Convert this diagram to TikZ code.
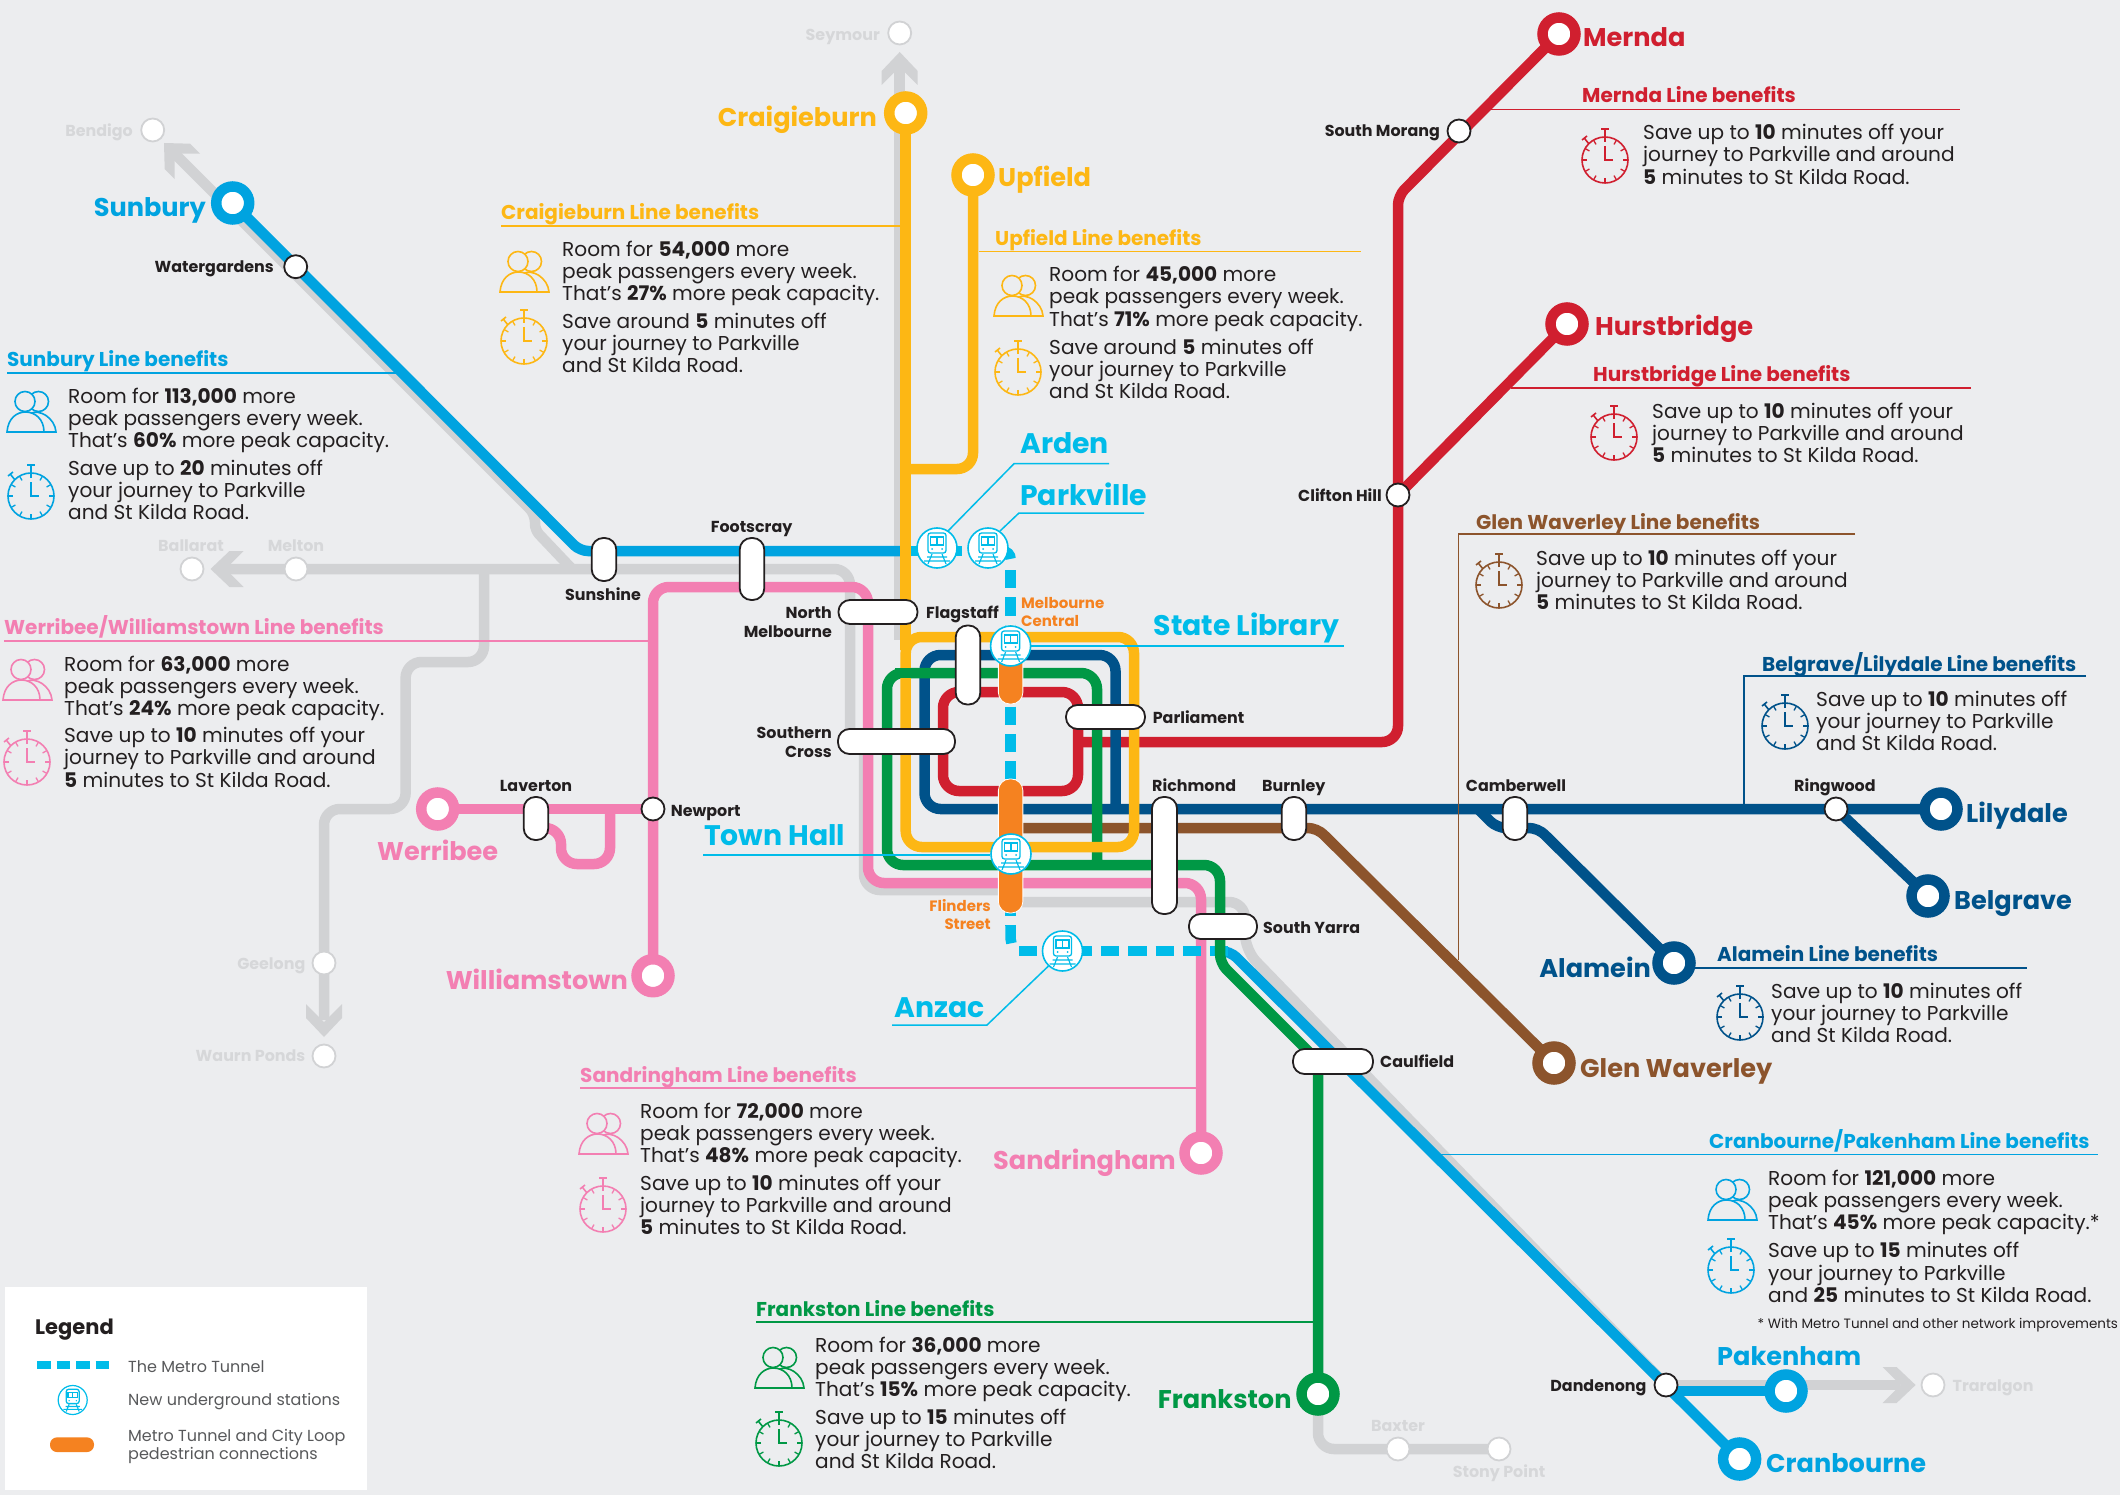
\documentclass[tikz,border=0pt]{standalone}
\usepackage{fontspec}
\setmainfont{Poppins}
\definecolor{bgc}{HTML}{ECEDEF}
\definecolor{cYel}{HTML}{FDB714}
\definecolor{cGrn}{HTML}{009845}
\definecolor{cNav}{HTML}{00528A}
\definecolor{cRed}{HTML}{D01F2F}
\definecolor{cBlu}{HTML}{00A3E0}
\definecolor{cCya}{HTML}{00BCE9}
\definecolor{cPnk}{HTML}{F37FB2}
\definecolor{cBrn}{HTML}{8C542C}
\definecolor{cOrg}{HTML}{F58220}
\definecolor{cGry}{HTML}{D1D2D4}
\definecolor{cGtx}{HTML}{D6D7D9}
\definecolor{ink}{HTML}{231F20}
\definecolor{lgtx}{HTML}{58595B}
\tikzset{
  x=1pt,y=-1pt,
  railway/.style={line width=10.5pt,rounded corners=16pt},
  term/.style={circle,draw=#1,line width=10.5pt,fill=white,inner sep=0pt,minimum size=33pt},
  stn/.style={circle,draw=ink,line width=1.8pt,fill=white,inner sep=0pt,minimum size=23pt},
  gstn/.style={circle,draw=cGry,line width=1.8pt,fill=white,inner sep=0pt,minimum size=23pt},
  hub/.style={rectangle,rounded corners=11.5pt,draw=ink,line width=1.8pt,fill=white,inner sep=0pt},
  walk/.style={rectangle,rounded corners=11.5pt,draw=white,line width=.8pt,fill=cOrg,inner sep=0pt},
  newstn/.style={circle,draw=cCya,line width=1.6pt,fill=white,inner sep=0pt,minimum size=40pt},
  biglbl/.style={font=\fontsize{25.6}{26}\selectfont\bfseries,anchor=base west,yshift=-10pt,inner sep=0pt},
  metrolbl/.style={font=\fontsize{28.3}{28}\selectfont\bfseries,text=cCya,anchor=base west,yshift=-10pt,inner sep=0pt},
  smlbl/.style={font=\fontsize{15.9}{19}\selectfont\bfseries,text=ink,anchor=base west,yshift=-5.5pt,inner sep=0pt},
  twolbl/.style={font=\fontsize{15.9}{19}\selectfont\bfseries,text=ink,inner sep=0pt},
  orglbl/.style={font=\fontsize{15}{18}\selectfont\bfseries,text=cOrg,inner sep=0pt},
  glbl/.style={font=\fontsize{15.9}{19}\selectfont\bfseries,text=cGtx,anchor=base west,yshift=-5.5pt,inner sep=0pt},
  headlbl/.style={font=\fontsize{20}{20}\selectfont\bfseries,anchor=base west,yshift=-7pt,inner sep=0pt},
  rulel/.style={line width=1.4pt},
  body/.style={font=\fontsize{20.1}{22.2}\selectfont,text=ink,align=left,anchor=north west,inner sep=0pt},
  leader/.style={draw=cCya,line width=1.5pt},
  pics/people/.style={code={
    \draw[line width=1.6pt,fill=bgc] (7.5,-10.5) circle (10pt);
    \draw[line width=1.6pt,fill=bgc] (-1,2) .. controls (8,-4) and (24,6) .. (25,20) -- (10,20);
    \draw[line width=1.6pt,fill=bgc] (-6,-10.5) circle (10pt);
    \draw[line width=1.6pt,fill=bgc] (-24,20) .. controls (-23,6) and (-14,0) .. (-5.5,0) .. controls (4,0) and (13,7) .. (13,20) -- cycle;
  }},
  pics/stopclock/.style={code={
    \draw[line width=1.6pt] (0,0) circle (23pt);
    \draw[line width=1.6pt] (0,-23) -- (0,-31) (-4,-31) -- (4,-31);
    \draw[line width=1.6pt] (-16,-16) -- (-20,-21) (-23,-20) -- (-18,-24);
    \draw[line width=1.6pt] (0,-14) -- (0,0) -- (8,0);
    \foreach \a in {0,30,...,330}{\draw[line width=1.3pt] (\a:18pt) -- (\a:23pt);}
  }},
  pics/trainicon/.style={code={
    \draw[cCya,line width=1.3pt,rounded corners=2.5pt] (-9,-15) rectangle (9,5);
    \draw[cCya,line width=1.1pt] (-6.5,-11) rectangle (6.5,-3) (0,-11) -- (0,-3);
    \fill[cCya] (-5,1) circle (1pt) (5,1) circle (1pt);
    \draw[cCya,line width=1.1pt] (-5,6) -- (-9,16) (5,6) -- (9,16) (-10,9) -- (10,9) (-13,13) -- (13,13);
  }},
  pics/chev/.style={code={
    \fill[cGry] (0,0) -- (-19,18) -- (-33,18) -- (-15,0) -- (-33,-18) -- (-19,-18) -- cycle;
  }},
}
\newcommand{\roomtxt}[5]{\node[body] (#1) at (#2,#3-10) {\rule{0pt}{17pt}Room for \textbf{#4} more\\peak passengers every week.\\That’s \textbf{#5} more peak capacity.};}
\newcommand{\roomtxtb}[5]{\node[body] (#1) at (#2,#3-10) {\rule{0pt}{17pt}Room for \textbf{#4} more\\peak passengers every week.\\That’s \textbf{#5} more peak capacity.*};}
\newcommand{\savelong}[4]{\node[body] (#1) at (#2,#3-10) {\rule{0pt}{17pt}Save up to \textbf{#4} minutes off your\\journey to Parkville and around\\\textbf{5} minutes to St Kilda Road.};}
\newcommand{\saveshort}[5]{\node[body] (#1) at (#2,#3-10) {\rule{0pt}{17pt}Save #4 \textbf{#5} minutes off\\your journey to Parkville\\and St Kilda Road.};}
\begin{document}
\begin{tikzpicture}
\useasboundingbox (0,0) rectangle (2120,1495);
\fill[bgc] (0,0) rectangle (2120,1495);
% named stops
\coordinate (pMernda) at (1559,34);
\coordinate (pClifton) at (1398,495);
\coordinate (pHurst) at (1567,324);
\coordinate (pCraig) at (905.7,113);
\coordinate (pUp) at (973,175);
\coordinate (pSunb) at (232.7,203);
\coordinate (pWerr) at (437.7,809);
\coordinate (pNewp) at (653,809);
\coordinate (pWill) at (653,975.7);
\coordinate (pSand) at (1201,1153);
\coordinate (pFrank) at (1318,1394);
\coordinate (pPak) at (1786,1391);
\coordinate (pCran) at (1739.6,1459);
\coordinate (pDand) at (1666,1385);
\coordinate (pGlen) at (1554,1063);
\coordinate (pLily) at (1941,809);
\coordinate (pBelg) at (1928,896);
\coordinate (pRing) at (1836,809);
\coordinate (pAlam) at (1674,963);
\coordinate (pBax) at (1398,1449);
\coordinate (pStony) at (1499,1449);
\coordinate (pTrar) at (1933,1385);
\coordinate (pSeym) at (899.7,33);
\coordinate (pBend) at (152.7,130);
\coordinate (pBall) at (192,569);
\coordinate (pMelt) at (296,569);
\coordinate (pGeel) at (324,963);
\coordinate (pWaurn) at (324,1056);
% grey network
\begin{scope}[every path/.append style={draw=cGry,railway}]
\path (899.5,65) -- (899.5,640);
\path (225,569) -- (850,569) -- (850,735);
\path[rounded corners=6pt] (850,735) -- (864,750);
\path (864,745) -- (864,890) -- (1005,890);
\path (1000,902) -- (1245,902) -- (1245,950) -- (pDand);
\path[rounded corners=0pt] (172,151) -- (530,509);
\path[rounded corners=6pt] (530,509) -- (535,516) -- (535,530) -- (572,569);
\path (484,569) -- (484,662) -- (405.6,662) -- (405.6,809) -- (324,809) -- (324,1020);
\path (pFrank) -- (1318,1449) -- (pStony);
\path (pDand) -- (1900,1385);
\end{scope}
\pic at (899.7,52) [rotate=90] {chev};
\pic at (164,143) [rotate=135] {chev};
\pic at (210.5,569) [rotate=180] {chev};
\pic at (324,1037) [rotate=270] {chev};
\pic at (1915.6,1385) {chev};
% coloured lines
\begin{scope}[every path/.append style={railway}]
\draw[cPnk] (pWill) -- (653,587) -- (868,587) -- (868,883) -- (1201,883) -- (pSand);
\draw[cPnk] (pWerr) -- (pNewp);
\draw[cPnk] (540,828) -- (561,828) -- (561,864) -- (610,864) -- (610,809);
\draw[cRed] (943,742) -- (943,692) -- (1078,692) -- (1078,791) -- (943,791) -- (943,742);
\draw[cRed] (1078,742) -- (1398,742) [rounded corners=9pt] -- (1398,196) -- (pMernda);
\draw[cRed] (pClifton) -- (pHurst);
\draw[cNav] (1115.5,809) -- (1115.5,655) -- (924.5,655) -- (924.5,809) -- (pLily);
\draw[cNav] (pRing) -- (pBelg);
\draw[cNav,rounded corners=9pt] (1478,809) -- (1497,828) -- (1538,828) -- (pAlam);
\draw[cBrn,rounded corners=9pt] (1011,828) -- (1317,828) -- (pGlen);
\draw[cBlu,rounded corners=8pt] (pSunb) -- (580,551) -- (911,551);
\draw[cBlu,rounded corners=9pt] (1215,951) -- (1230,951) -- (pCran);
\draw[cBlu] (pDand) ++(0,6) -- (pPak);
\draw[cCya,rounded corners=0pt] (911,551) -- (962,551);
\draw[cCya,rounded corners=8pt,dash pattern=on 30pt off 100pt] (985,551) -- (1010.6,551) -- (1010.6,562);
\draw[cCya,rounded corners=0pt,dash pattern=on 18.3pt off 9pt] (1010.6,570) -- (1010.6,925);
\draw[cCya,rounded corners=12pt,dash pattern=on 18.3pt off 50pt] (1010.6,925) -- (1010.6,951) -- (1020,951);
\draw[cCya,rounded corners=0pt,dash pattern=on 18.3pt off 9pt] (1019,951) -- (1228,951);
\draw[cGrn] (1097,870) -- (1097,673) -- (887,673) -- (887,865) -- (1220,865) [rounded corners=9pt] -- (1220,963) -- (1318,1061) -- (pFrank);
\draw[cYel,rounded corners=0pt] (pCraig) -- (905.7,650);
\draw[cYel] (pUp) -- (973,469) -- (905.7,469);
\draw[cYel] (1020,637) -- (1134,637) -- (1134,847) -- (905.7,847) -- (905.7,637) -- (1020,637);
\draw[cGrn,rounded corners=0pt] (895,673) -- (950,673);
\end{scope}
% walkways
\node[walk,minimum width=24.5pt,minimum height=79pt] (wMC) at (1010.6,664.5) {};
\node[walk,minimum width=24.5pt,minimum height=134pt] (wFS) at (1010.6,846) {};
% benefit rules
\draw[rulel,cBlu] (7,373) -- (398,373);
\draw[rulel,cPnk] (4,641) -- (654,641);
\draw[rulel,cYel] (501,226) -- (900,226);
\draw[rulel,cYel] (979,251.5) -- (1361,251.5);
\draw[rulel,cRed] (1480,109.5) -- (1960,109.5);
\draw[rulel,cRed] (1511,388) -- (1971,388);
\draw[rulel,cBrn] (1855,534) -- (1458.7,534) -- (1458.7,960);
\draw[rulel,cNav] (2086,676) -- (1744,676) -- (1744,809);
\draw[rulel,cNav] (1690,968) -- (2027,968);
\draw[rulel,cBlu] (1436,1154.6) -- (2098,1154.6);
\draw[rulel,cPnk] (580,1088) -- (1198,1088);
\draw[rulel,cGrn] (756,1322) -- (1314,1322);
% interchange pills
\node[hub,minimum width=79pt,minimum height=24pt] (hNM) at (878,612) {};
\node[hub,minimum width=24.5pt,minimum height=79pt] (hFL) at (968,665) {};
\node[hub,minimum width=79pt,minimum height=24pt] (hPA) at (1105.5,717) {};
\node[hub,minimum width=117pt,minimum height=25pt] (hSC) at (896.5,741.5) {};
\node[hub,minimum width=25pt,minimum height=117pt] (hRI) at (1164.5,855.5) {};
\node[hub,minimum width=24.5pt,minimum height=43pt] (hBU) at (1294,818.5) {};
\node[hub,minimum width=68pt,minimum height=25pt] (hSY) at (1223,926.5) {};
\node[hub,minimum width=80pt,minimum height=25pt] (hCA) at (1333,1061.5) {};
\node[hub,minimum width=24.5pt,minimum height=43pt] (hSS) at (604,559.5) {};
\node[hub,minimum width=24.5pt,minimum height=62pt] (hFO) at (752,569) {};
\node[hub,minimum width=24.5pt,minimum height=43pt] (hLA) at (536,818.5) {};
\node[hub,minimum width=24.5pt,minimum height=43pt] (hCB) at (1515,818.5) {};
% leaders
\node[newstn] (iAR) at (937,548) {}; \pic at (937,548) {trainicon};
\node[newstn] (iPK) at (988,548) {}; \pic at (988,548) {trainicon};
\node[newstn] (iMC) at (1010.6,646) {}; \pic at (1010.6,646) {trainicon};
\node[newstn] (iTH) at (1011,854) {}; \pic at (1011,854) {trainicon};
\node[newstn] (iAZ) at (1062.5,951) {}; \pic at (1062.5,951) {trainicon};
\coordinate (lAR1) at (1014,463.7); \coordinate (lAR2) at (1109,463.7);
\coordinate (lPK1) at (1019,513); \coordinate (lPK2) at (1144,513);
\coordinate (lSL) at (1344,646);
\coordinate (lTH) at (703,855);
\coordinate (lAZ1) at (987,1025); \coordinate (lAZ2) at (892,1025);
\draw[leader] (iAR) ++(11,-17) -- (lAR1) -- (lAR2);
\draw[leader] (iPK) ++(12,-17) -- (lPK1) -- (lPK2);
\draw[leader] (iMC.east |- lSL) -- (lSL);
\draw[leader] (iTH.west |- lTH) -- (lTH);
\draw[leader] (iAZ) ++(-14,15) -- (lAZ1) -- (lAZ2);
% stations
\node[term=cRed] (nMernda) at (pMernda) {};
\node[term=cRed] (nHurst) at (pHurst) {};
\node[term=cYel] (nCraig) at (pCraig) {};
\node[term=cYel] (nUp) at (pUp) {};
\node[term=cBlu] (nSunb) at (pSunb) {};
\node[term=cPnk] (nWerr) at (pWerr) {};
\node[term=cPnk] (nWill) at (pWill) {};
\node[term=cPnk] (nSand) at (pSand) {};
\node[term=cGrn] (nFrank) at (pFrank) {};
\node[term=cBlu] (nPak) at (pPak) {};
\node[term=cBlu] (nCran) at (pCran) {};
\node[term=cBrn] (nGlen) at (pGlen) {};
\node[term=cNav] (nLily) at (pLily) {};
\node[term=cNav] (nBelg) at (pBelg) {};
\node[term=cNav] (nAlam) at (pAlam) {};
\node[stn] (nSM) at (1459,131) {};
\node[stn] (nCH) at (pClifton) {};
\node[stn] (nWG) at (295.7,266.7) {};
\node[stn] (nNP) at (pNewp) {};
\node[stn] (nRW) at (pRing) {};
\node[stn] (nDN) at (pDand) {};
\node[gstn] (gSeym) at (pSeym) {};
\node[gstn] (gBend) at (pBend) {};
\node[gstn] (gBall) at (pBall) {};
\node[gstn] (gMelt) at (pMelt) {};
\node[gstn] (gGeel) at (pGeel) {};
\node[gstn] (gWaurn) at (pWaurn) {};
\node[gstn] (gBax) at (pBax) {};
\node[gstn] (gStony) at (pStony) {};
\node[gstn] (gTrar) at (pTrar) {};
% big labels
\node[biglbl,text=cRed] (tMernda) at (1583,36.5) {Mernda};
\node[biglbl,text=cRed] (tHurst) at (1595,326) {Hurstbridge};
\node[biglbl,text=cYel,anchor=base east] (tCraig) at (877,117) {Craigieburn};
\node[biglbl,text=cYel] (tUp) at (998,177) {Upfield};
\node[biglbl,text=cBlu,anchor=base east] (tSunb) at (206,207) {Sunbury};
\node[biglbl,text=cPnk,anchor=base] (tWerr) at (437.7,850) {Werribee};
\node[biglbl,text=cPnk,anchor=base east] (tWill) at (628,979) {Williamstown};
\node[biglbl,text=cPnk,anchor=base east] (tSand) at (1176,1159) {Sandringham};
\node[biglbl,text=cGrn,anchor=base east] (tFrank) at (1291.7,1398) {Frankston};
\node[biglbl,text=cBlu] (tPak) at (1717,1355) {Pakenham};
\node[biglbl,text=cBlu] (tCran) at (1766,1462) {Cranbourne};
\node[biglbl,text=cBrn] (tGlen) at (1580,1067) {Glen Waverley};
\node[biglbl,text=cNav] (tLily) at (1966,812.6) {Lilydale};
\node[biglbl,text=cNav] (tBelg) at (1954,899) {Belgrave};
\node[biglbl,text=cNav,anchor=base east] (tAlam) at (1651,967) {Alamein};
\node[metrolbl] (tAR) at (1020,443.5) {Arden};
\node[metrolbl] (tPK) at (1020,495) {Parkville};
\node[metrolbl] (tSL) at (1153.5,625.7) {State Library};
\node[metrolbl] (tTH) at (704,835.5) {Town Hall};
\node[metrolbl] (tAZ) at (894,1007) {Anzac};
% small labels
\node[smlbl,anchor=base east] (sSM) at (1440,131) {South Morang};
\node[smlbl,anchor=base east] (sWG) at (274,267) {Watergardens};
\node[smlbl,anchor=base east] (sCH) at (1382,495.7) {Clifton Hill};
\node[smlbl,anchor=base] (sFO) at (751.6,526.7) {Footscray};
\node[smlbl,anchor=base] (sSS) at (603,595) {Sunshine};
\node[smlbl] (sFL) at (926,612.7) {Flagstaff};
\node[smlbl] (sPA) at (1152.6,717.7) {Parliament};
\node[smlbl] (sRI) at (1152,785.7) {Richmond};
\node[smlbl] (sBU) at (1262,785.7) {Burnley};
\node[smlbl] (sCB) at (1465.7,785.7) {Camberwell};
\node[smlbl] (sRW) at (1794,785.7) {Ringwood};
\node[smlbl,anchor=base] (sLA) at (536,785.7) {Laverton};
\node[smlbl] (sNP) at (670.7,810.7) {Newport};
\node[smlbl] (sSY) at (1263,927.7) {South Yarra};
\node[smlbl] (sCA) at (1380,1062) {Caulfield};
\node[smlbl,anchor=base east] (sDN) at (1646.6,1386) {Dandenong};
\node[twolbl,align=right,anchor=east] (sNM) at (832,622) {North\\Melbourne};
\node[twolbl,align=right,anchor=east] (sSC) at (832,742.5) {Southern\\Cross};
\node[orglbl,align=left,anchor=west] (sMC) at (1021,611.7) {Melbourne\\Central};
\node[orglbl,align=right,anchor=east] (sFS) at (991,914.7) {Flinders\\Street};
% grey labels
\node[glbl,anchor=base east] (xSeym) at (880,35) {Seymour};
\node[glbl,anchor=base east] (xBend) at (133,131) {Bendigo};
\node[glbl,anchor=base] (xBall) at (191,545.7) {Ballarat};
\node[glbl,anchor=base] (xMelt) at (296,545.7) {Melton};
\node[glbl,anchor=base east] (xGeel) at (305.5,964) {Geelong};
\node[glbl,anchor=base east] (xWaurn) at (305.5,1056) {Waurn Ponds};
\node[glbl] (xTrar) at (1952.4,1386) {Traralgon};
\node[glbl,anchor=base] (xBax) at (1398,1426) {Baxter};
\node[glbl,anchor=base] (xStony) at (1499,1472) {Stony Point};
% benefit heads
\node[headlbl,text=cBlu] (b1) at (7,359.6) {Sunbury Line benefits};
\node[headlbl,text=cPnk] (b2) at (4,627) {Werribee/Williamstown Line benefits};
\node[headlbl,text=cYel] (b3) at (501,213) {Craigieburn Line benefits};
\node[headlbl,text=cYel] (b4) at (995,239) {Upfield Line benefits};
\node[headlbl,text=cRed] (b5) at (1582,96) {Mernda Line benefits};
\node[headlbl,text=cRed] (b6) at (1593,374.5) {Hurstbridge Line benefits};
\node[headlbl,text=cBrn] (b7) at (1476,522) {Glen Waverley Line benefits};
\node[headlbl,text=cNav] (b8) at (1762,664) {Belgrave/Lilydale Line benefits};
\node[headlbl,text=cNav] (b9) at (1717,954.5) {Alamein Line benefits};
\node[headlbl,text=cBlu] (b10) at (1709,1141) {Cranbourne/Pakenham Line benefits};
\node[headlbl,text=cPnk] (b11) at (580,1075) {Sandringham Line benefits};
\node[headlbl,text=cGrn] (b12) at (756,1309) {Frankston Line benefits};
% icons
\pic[color=cBlu] at (31,412) {people}; \pic[color=cBlu] at (31,496) {stopclock};
\pic[color=cPnk] at (27,680) {people}; \pic[color=cPnk] at (27,762) {stopclock};
\pic[color=cYel] at (524,272) {people}; \pic[color=cYel] at (524,341) {stopclock};
\pic[color=cYel] at (1018,296) {people}; \pic[color=cYel] at (1018,372) {stopclock};
\pic[color=cRed] at (1605,160) {stopclock};
\pic[color=cRed] at (1614,437) {stopclock};
\pic[color=cBrn] at (1499,585) {stopclock};
\pic[color=cNav] at (1785,726) {stopclock};
\pic[color=cNav] at (1740,1017) {stopclock};
\pic[color=cBlu] at (1732,1200) {people}; \pic[color=cBlu] at (1731,1270) {stopclock};
\pic[color=cPnk] at (603,1134) {people}; \pic[color=cPnk] at (603,1209) {stopclock};
\pic[color=cGrn] at (779,1368) {people}; \pic[color=cGrn] at (779,1443) {stopclock};
% benefit texts
\roomtxt{r1}{68}{396}{113,000}{60\%}
\saveshort{s1}{68}{468}{up to}{20}
\roomtxt{r2}{64}{664}{63,000}{24\%}
\savelong{s2}{64}{735.5}{10}
\roomtxt{r3}{562}{249}{54,000}{27\%}
\saveshort{s3}{562}{321}{around}{5}
\roomtxt{r4}{1049}{274.5}{45,000}{71\%}
\saveshort{s4}{1049}{347}{around}{5}
\savelong{s5}{1643}{132.5}{10}
\savelong{s6}{1652}{411}{10}
\savelong{s7}{1536}{558}{10}
\saveshort{s8}{1816}{699}{up to}{10}
\saveshort{s9}{1771}{991}{up to}{10}
\roomtxtb{r10}{1768}{1178}{121,000}{45\%}
\node[body] (s10) at (1768,1240.6) {\rule{0pt}{17pt}Save up to \textbf{15} minutes off\\your journey to Parkville\\and \textbf{25} minutes to St Kilda Road.};
\node[font=\fontsize{13.5}{16}\selectfont,text=ink,anchor=west,inner sep=0pt] (fn) at (1757.5,1325) {*\ With Metro Tunnel and other network improvements};
\roomtxt{r11}{640}{1111}{72,000}{48\%}
\savelong{s11}{640}{1183}{10}
\roomtxt{r12}{815}{1345}{36,000}{15\%}
\saveshort{s12}{815}{1417}{up to}{15}
% legend
\fill[white] (5,1287) rectangle (367,1490);
\node[font=\fontsize{21}{24}\selectfont\bfseries,text=ink,anchor=west,inner sep=0pt] (lgT) at (35,1330) {Legend};
\coordinate (lgD1) at (37,1365); \coordinate (lgD2) at (110,1365);
\draw[cCya,line width=8pt,dash pattern=on 13.5pt off 6pt] (lgD1) -- (lgD2);
\node[circle,draw=cCya,line width=1.2pt,fill=white,inner sep=0pt,minimum size=29pt] (lgI) at (72.7,1400) {};
\pic[scale=.72] at (72.7,1400) {trainicon};
\node[rectangle,rounded corners=7pt,fill=cOrg,inner sep=0pt,minimum width=44pt,minimum height=14.7pt] (lgW) at (72,1444.7) {};
\begin{scope}[every node/.style={font=\fontsize{16}{18}\selectfont,text=lgtx,inner sep=0pt,align=left,anchor=west}]
\node (lg1) at (128,1366.5) {The Metro Tunnel};
\node (lg2) at (128,1402) {New underground stations};
\node (lg3) at (128,1446.5) {Metro Tunnel and City Loop\\pedestrian connections};
\end{scope}
\end{tikzpicture}
\end{document}
